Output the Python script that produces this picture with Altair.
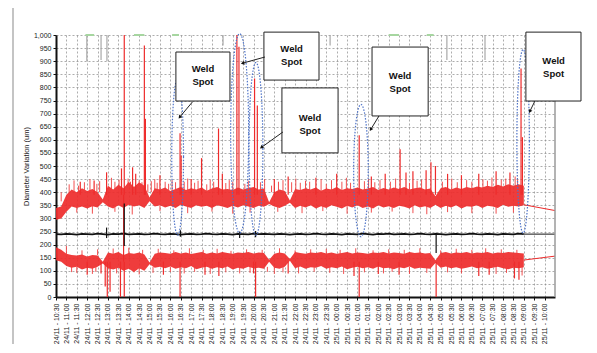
import altair as alt
import pandas as pd
import numpy as np

# ---------------- data ----------------
TICK_LABELS = [
    "24/11 - 10:30", "24/11 - 11:00", "24/11 - 11:30", "24/11 - 12:00", "24/11 - 12:30",
    "24/11 - 13:00", "24/11 - 13:30", "24/11 - 14:00", "24/11 - 14:30", "24/11 - 15:00",
    "24/11 - 15:30", "24/11 - 16:00", "24/11 - 16:30", "24/11 - 17:00", "24/11 - 17:30",
    "24/11 - 18:00", "24/11 - 18:30", "24/11 - 19:00", "24/11 - 19:30", "24/11 - 20:00",
    "24/11 - 20:30", "24/11 - 21:00", "24/11 - 21:30", "24/11 - 22:00", "24/11 - 22:30",
    "24/11 - 23:00", "24/11 - 23:30", "25/11 - 00:00", "25/11 - 00:30", "25/11 - 01:00",
    "25/11 - 01:30", "25/11 - 02:00", "25/11 - 02:30", "25/11 - 03:00", "25/11 - 03:30",
    "25/11 - 04:00", "25/11 - 04:30", "25/11 - 05:00", "25/11 - 05:30", "25/11 - 06:00",
    "25/11 - 06:30", "25/11 - 07:00", "25/11 - 07:30", "25/11 - 08:00", "25/11 - 08:30",
    "25/11 - 09:00", "25/11 - 09:30", "25/11 - 10:00",
]
T_START, T_END = 630, 2070          # minutes from 24/11 00:00
TICKS = [T_START + 30 * k for k in range(len(TICK_LABELS))]
SAMPLE_T = list(range(630, 1981, 15))   # 15-minute samples, 10:30 -> 09:00

U_LO = [295, 300, 325, 345, 340, 345, 338, 346, 342, 362,
        345, 338, 350, 340, 352, 345, 350, 340, 365, 345,
        350, 342, 348, 340, 352, 345, 340, 350, 344, 348,
        340, 350, 345, 340, 348, 342, 350, 345, 340, 348,
        344, 355, 345, 340, 348, 360, 340, 348, 342, 350,
        338, 346, 340, 350, 344, 338, 348, 342, 350, 340,
        345, 338, 350, 342, 346, 340, 348, 344, 338, 350,
        342, 346, 340, 352, 340, 348, 342, 350, 338, 346,
        344, 350, 340, 348, 345, 340, 352, 344, 348, 345, 350]
U_HI = [340, 345, 390, 410, 400, 415, 405, 412, 400, 372,
        425, 410, 428, 415, 440, 420, 438, 425, 380, 415,
        410, 418, 405, 412, 420, 408, 415, 410, 418, 406,
        414, 420, 410, 412, 408, 418, 410, 415, 420, 410,
        414, 362, 400, 410, 405, 368, 412, 408, 415, 410,
        418, 406, 414, 410, 420, 408, 415, 412, 418, 410,
        414, 420, 408, 416, 410, 418, 412, 420, 410, 415,
        418, 410, 414, 385, 415, 420, 410, 418, 412, 420,
        415, 422, 418, 425, 420, 428, 422, 430, 425, 430, 425]
L_LO = [140, 135, 118, 112, 115, 105, 112, 108, 115, 128,
        110, 105, 112, 100, 108, 95, 110, 100, 125, 112,
        115, 110, 116, 108, 114, 110, 118, 106, 112, 115,
        108, 114, 110, 116, 105, 112, 108, 115, 110, 112,
        108, 135, 112, 108, 115, 138, 110, 116, 108, 114,
        112, 118, 108, 114, 110, 116, 106, 112, 115, 110,
        114, 108, 116, 110, 112, 106, 114, 110, 116, 108,
        112, 110, 108, 130, 112, 116, 110, 114, 108, 112,
        116, 110, 114, 108, 112, 115, 110, 106, 112, 110, 114]
L_HI = [190, 180, 165, 160, 158, 162, 155, 160, 158, 135,
        170, 165, 172, 160, 168, 165, 170, 162, 132, 165,
        170, 168, 165, 172, 166, 170, 164, 168, 172, 165,
        170, 166, 172, 168, 165, 170, 168, 172, 166, 170,
        168, 142, 165, 170, 166, 145, 172, 168, 165, 170,
        168, 172, 166, 170, 165, 168, 172, 166, 170, 168,
        165, 170, 168, 172, 166, 170, 168, 165, 172, 168,
        170, 166, 168, 140, 168, 172, 166, 170, 168, 172,
        166, 170, 168, 172, 166, 170, 168, 172, 170, 168, 166]
BLACK = [240, 239, 241, 240, 238, 241, 240, 239, 242, 240,
         238, 241, 240, 242, 239, 240, 241, 239, 240, 242,
         240, 239, 241, 240, 238, 240, 241, 239, 240, 242,
         240, 239, 241, 240, 238, 241, 240, 239, 242, 240,
         241, 240, 239, 241, 240, 238, 240, 241, 239, 240,
         242, 240, 239, 241, 240, 238, 241, 240, 239, 242,
         240, 238, 241, 240, 242, 239, 240, 241, 239, 240,
         242, 240, 239, 241, 240, 238, 240, 241, 239, 240,
         242, 240, 239, 241, 240, 238, 241, 240, 239, 242, 240]

# tall spikes rising from the upper band
UP_SPIKE_T = [700, 740, 776, 819, 827, 851, 860, 885, 888, 930, 988, 991, 1020, 1050,
              1099, 1110, 1152, 1158, 1203, 1211, 1260, 1300, 1380, 1440, 1505, 1540,
              1580, 1623, 1640, 1660, 1698, 1712, 1725, 1760, 1800, 1850, 1900, 1940,
              1972, 1976]
UP_SPIKE_V = [440, 445, 476, 491, 1000, 495, 470, 960, 680, 465, 625, 540, 450, 530,
              643, 470, 1000, 955, 834, 731, 450, 460, 455, 470, 617, 460,
              470, 564, 475, 480, 484, 514, 500, 470, 465, 470, 480, 475,
              872, 610]
# small noise excursions above the upper band
UP_FRINGE_T = [645, 668, 682, 695, 712, 728, 748, 756, 790, 800,
               812, 838, 845, 870, 878, 895, 905, 915, 922, 945,
               955, 965, 975, 1000, 1010, 1030, 1040, 1065, 1075, 1085,
               1120, 1130, 1140, 1175, 1185, 1220, 1232, 1252, 1272, 1285,
               1310, 1322, 1335, 1350, 1362, 1395, 1410, 1425, 1455, 1468,
               1480, 1520, 1532, 1550, 1565, 1595, 1610, 1650, 1672, 1685,
               1745, 1772, 1788, 1815, 1830, 1862, 1875, 1888, 1915, 1928,
               1955, 1962]
UP_FRINGE_V = [365, 430, 445, 425, 438, 450, 432, 442, 455, 440,
               448, 452, 440, 445, 438, 430, 442, 450, 436, 440,
               432, 446, 438, 440, 452, 436, 444, 430, 448, 440,
               435, 446, 440, 432, 444, 438, 450, 425, 440, 446,
               438, 452, 436, 444, 440, 450, 432, 446, 440, 455,
               436, 442, 450, 438, 446, 440, 452, 436, 444, 448,
               440, 452, 438, 446, 440, 450, 444, 456, 448, 452,
               460, 450]
# small excursions below the upper band
UP_DN_T = [690, 735, 800, 850, 930, 1010, 1080, 1140, 1190, 1270, 1340, 1400, 1470,
           1540, 1600, 1660, 1700, 1760, 1830, 1900, 1950]
UP_DN_V = [322, 318, 325, 315, 328, 320, 326, 318, 322, 325, 320, 328, 318,
           322, 326, 320, 316, 324, 320, 318, 322]
# excursions above / below the lower band
LO_UP_T = [660, 705, 750, 795, 840, 880, 925, 970, 1015, 1055, 1095, 1135, 1180, 1225, 1275,
           1320, 1365, 1410, 1450, 1495, 1545, 1590, 1635, 1680, 1740, 1785, 1830, 1870, 1915, 1960]
LO_UP_V = [195, 178, 182, 185, 188, 180, 184, 178, 186, 180, 184, 176, 182, 180, 186,
           178, 182, 184, 180, 186, 178, 182, 180, 186, 178, 184, 180, 186, 182, 180]
LO_DN_T = [675, 690, 735, 745, 805, 855, 870, 910, 960, 1000,
           1030, 1075, 1120, 1160, 1190, 1240, 1260, 1285, 1330, 1375,
           1420, 1460, 1520, 1575, 1600, 1650, 1700, 1760, 1800, 1900,
           1930, 1975]
LO_DN_V = [95, 92, 88, 96, 90, 94, 86, 92, 95, 90,
           96, 88, 94, 90, 92, 96, 88, 94, 90, 96,
           92, 88, 94, 90, 96, 88, 92, 94, 90, 88,
           92, 82]
# deep dips falling from the lower band
LOW_SPIKE_T = [720, 760, 772, 778, 786, 816, 827, 940, 988, 1060, 1100, 1200, 1206,
               1300, 1490, 1505, 1560, 1620, 1727, 1850, 1880, 1953, 1966]
LOW_SPIKE_V = [85, 90, 40, 0, 20, 0, 0, 85, 0, 85, 80, 90, 0,
               90, 80, 0, 88, 85, 0, 80, 85, 71, 66]
# glitches on the black trace
BLK_SPIKE_T = [776, 827, 989, 1160, 1206, 1727]
BLK_SPIKE_LO = [225, 195, 230, 225, 228, 168]
BLK_SPIKE_HI = [265, 357, 255, 250, 252, 245]

# faint traces clipped at the top of the plot
GRAY_T = [719, 760, 777, 1112, 1421, 1758, 1868]
GRAY_V = [900, 905, 900, 960, 960, 905, 905]
GREEN_T0 = [715, 855, 965, 1590, 1700]
GREEN_T1 = [740, 885, 985, 1620, 1720]

# dotted ellipses around the weld spots
ELL_T = [981, 1160, 1207, 1510, 1978]
ELL_HALF = [17, 26, 20, 21, 18]
ELL_TOP = [834, 1005, 895, 735, 945]
ELL_BOT = [236, 244, 236, 230, 244]

# "Weld Spot" call-out boxes (in data units)
BOX_T0 = [976, 1230, 1282, 1542, 1986]
BOX_T1 = [1132, 1389, 1444, 1704, 2145]
BOX_V0 = [748, 828, 550, 691, 748]
BOX_V1 = [935, 1011, 798, 954, 1011]
TXT_T = [1054, 1310, 1363, 1623, 2066]
TXT_V = [870, 948, 685, 843, 901]
ARR_T0 = [1024, 1233, 1285, 1562, 2012]
ARR_V0 = [745, 916, 630, 691, 748]
ARR_T1 = [988, 1170, 1224, 1539, 1998]
ARR_V1 = [688, 893, 572, 641, 710]

# ---------------- chart ----------------
W, H = 499, 262
RED = "#ee2b2b"
FONT = "Liberation Sans"

xs = alt.Scale(domain=[T_START, T_END], nice=False, zero=False)
ys = alt.Scale(domain=[0, 1000], nice=False, zero=False)

label_arr = "[" + ",".join("'%s'" % s for s in TICK_LABELS) + "]"
x_axis = alt.Axis(values=TICKS, labelExpr=label_arr + "[round((datum.value-630)/30)]",
                  labelAngle=270, labelFontSize=7, labelFont=FONT, labelColor="#222",
                  labelPadding=3, labelOverlap=False, grid=True, gridDash=[2, 2],
                  gridColor="#8a8a8a", gridWidth=0.7, domainColor="#111", domainWidth=2,
                  tickColor="#111", tickSize=3, title="")
y_axis = alt.Axis(values=list(range(0, 1001, 50)), format=",.0f", labelFontSize=7,
                  labelFont=FONT, labelColor="#222", labelPadding=2, labelOverlap=False,
                  grid=True, gridDash=[2, 2], gridColor="#8a8a8a", gridWidth=0.7,
                  domainColor="#111", domainWidth=2, tickColor="#111", tickSize=3,
                  title="Diameter Variation (um)", titleFont=FONT, titleFontSize=7.5,
                  titleFontWeight="normal", titleColor="#222", titlePadding=3)

band = pd.DataFrame({"t": SAMPLE_T, "ulo": U_LO, "uhi": U_HI, "llo": L_LO,
                     "lhi": L_HI, "b": BLACK})


def X(f="t"):
    return alt.X(f + ":Q", scale=xs, axis=x_axis)


def Y(f="v"):
    return alt.Y(f + ":Q", scale=ys, axis=y_axis)


def YD(v):
    return alt.YDatum(v, scale=ys, axis=y_axis)


upper = alt.Chart(band).mark_area(color=RED, opacity=0.92).encode(
    x=X(), y=Y("ulo"), y2="uhi:Q")
lower = alt.Chart(band).mark_area(color=RED, opacity=0.92).encode(
    x=X(), y=Y("llo"), y2="lhi:Q")
black = alt.Chart(band).mark_line(color="#111", strokeWidth=1.8).encode(x=X(), y=Y("b"))

ends = pd.DataFrame({"t": [1980, 2070, 1980, 2070, 1980, 2070],
                     "v": [352, 330, 141, 156, 240, 240],
                     "s": ["u", "u", "l", "l", "b", "b"]})
end_lines = alt.Chart(ends).mark_line(strokeWidth=1).encode(
    x=X(), y=Y(), detail="s:N",
    color=alt.Color("s:N", scale=alt.Scale(domain=["u", "l", "b"], range=[RED, RED, "#111"]), legend=None))

fringe = pd.concat([
    pd.DataFrame({"t": UP_FRINGE_T, "v": UP_FRINGE_V, "base": 400}),
    pd.DataFrame({"t": UP_DN_T, "v": UP_DN_V, "base": 350}),
    pd.DataFrame({"t": LO_UP_T, "v": LO_UP_V, "base": 160}),
    pd.DataFrame({"t": LO_DN_T, "v": LO_DN_V, "base": 115}),
])
fringe_rules = alt.Chart(fringe).mark_rule(color="#f03c3c", strokeWidth=0.9).encode(
    x=X(), y=Y(), y2="base:Q")

spikes = pd.concat([
    pd.DataFrame({"t": UP_SPIKE_T, "v": UP_SPIKE_V, "base": 390}),
    pd.DataFrame({"t": LOW_SPIKE_T, "v": LOW_SPIKE_V, "base": 135}),
    pd.DataFrame({"t": [825], "v": [390], "base": [135]}),
])
spike_rules = alt.Chart(spikes).mark_rule(color=RED, strokeWidth=1.2).encode(
    x=X(), y=Y(), y2="base:Q")
blk_sp = alt.Chart(pd.DataFrame({"t": BLK_SPIKE_T, "v": BLK_SPIKE_LO, "v2": BLK_SPIKE_HI})).mark_rule(
    color="#111", strokeWidth=1.2).encode(x=X(), y=Y(), y2="v2:Q")

gray = alt.Chart(pd.DataFrame({"t": GRAY_T, "v": GRAY_V})).mark_rule(
    color="#a8a8a8", strokeWidth=1.2).encode(x=X(), y=Y(), y2=alt.datum(1000))
green = alt.Chart(pd.DataFrame({"t": GREEN_T0, "t2": GREEN_T1})).mark_rule(
    color="#a6d6a0", strokeWidth=2).encode(x=X(), x2="t2:Q", y=YD(1000))

# ellipses
rows = []
ang = np.linspace(0, 2 * np.pi, 90)
for i in range(len(ELL_T)):
    mid = (ELL_TOP[i] + ELL_BOT[i]) / 2
    rad = (ELL_TOP[i] - ELL_BOT[i]) / 2
    for k, a in enumerate(ang):
        rows.append({"e": i, "k": k, "t": ELL_T[i] + ELL_HALF[i] * np.cos(a),
                     "v": mid + rad * np.sin(a)})
ell = alt.Chart(pd.DataFrame(rows)).mark_line(
    color="#4f74c8", strokeWidth=1.2, strokeDash=[1.5, 1.5]).encode(
    x=X(), y=Y(), detail="e:N", order="k:Q")

right_border = alt.Chart(pd.DataFrame({"t": [T_END]})).mark_rule(
    color="#9a9a9a", strokeWidth=1.5).encode(x=X(), y=YD(0), y2=alt.datum(1000))

frame_left = alt.Chart(pd.DataFrame({"a": [0]})).mark_rule(color="#c4c4c4", strokeWidth=2).encode(
    x=alt.value(-43), y=alt.value(-29), y2=alt.value(330))
frame_top = alt.Chart(pd.DataFrame({"a": [0]})).mark_rule(color="#c4c4c4", strokeWidth=2).encode(
    x=alt.value(-43), x2=alt.value(560), y=alt.value(-29))

boxes = alt.Chart(pd.DataFrame({"t": BOX_T0, "t2": BOX_T1, "v": BOX_V0, "v2": BOX_V1})).mark_rect(
    fill="white", stroke="#222", strokeWidth=1).encode(x=X(), x2="t2:Q", y=Y(), y2="v2:Q")
texts = alt.Chart(pd.DataFrame({"t": TXT_T, "v": TXT_V, "txt": ["Weld\nSpot"] * len(TXT_T)})).mark_text(
    font=FONT, fontWeight="bold", fontSize=9.5, lineBreak="\n", lineHeight=13,
    align="center", baseline="middle", color="#111").encode(x=X(), y=Y(), text="txt:N")

px_t = W / (T_END - T_START)
px_v = H / 1000
angles = [float(np.degrees(np.arctan2((ARR_T1[i] - ARR_T0[i]) * px_t,
                                      (ARR_V1[i] - ARR_V0[i]) * px_v)) % 360)
          for i in range(len(ARR_T0))]
arr_df = pd.DataFrame({"t": ARR_T0, "v": ARR_V0, "t2": ARR_T1, "v2": ARR_V1, "ang": angles})
arr_lines = alt.Chart(arr_df).mark_rule(color="#222", strokeWidth=1).encode(
    x=X(), y=Y(), x2="t2:Q", y2="v2:Q")
arr_heads = alt.Chart(arr_df).mark_point(shape="triangle", filled=True, size=16, color="#111", opacity=1).encode(
    x=X("t2"), y=Y("v2"), angle=alt.Angle("ang:Q", scale=None))

chart = alt.layer(
    upper, lower, fringe_rules, black, end_lines, spike_rules, blk_sp,
    gray, green, ell, right_border, boxes, texts, arr_lines, arr_heads,
    frame_left, frame_top
).properties(
    width=W, height=H,
    padding={"left": 48, "top": 27, "right": 33, "bottom": 47},
    autosize=alt.AutoSizeParams(type="none"),
    background="white",
).configure_view(strokeWidth=0)

chart.save("out.html", embed_options={"renderer": "svg", "actions": False})
